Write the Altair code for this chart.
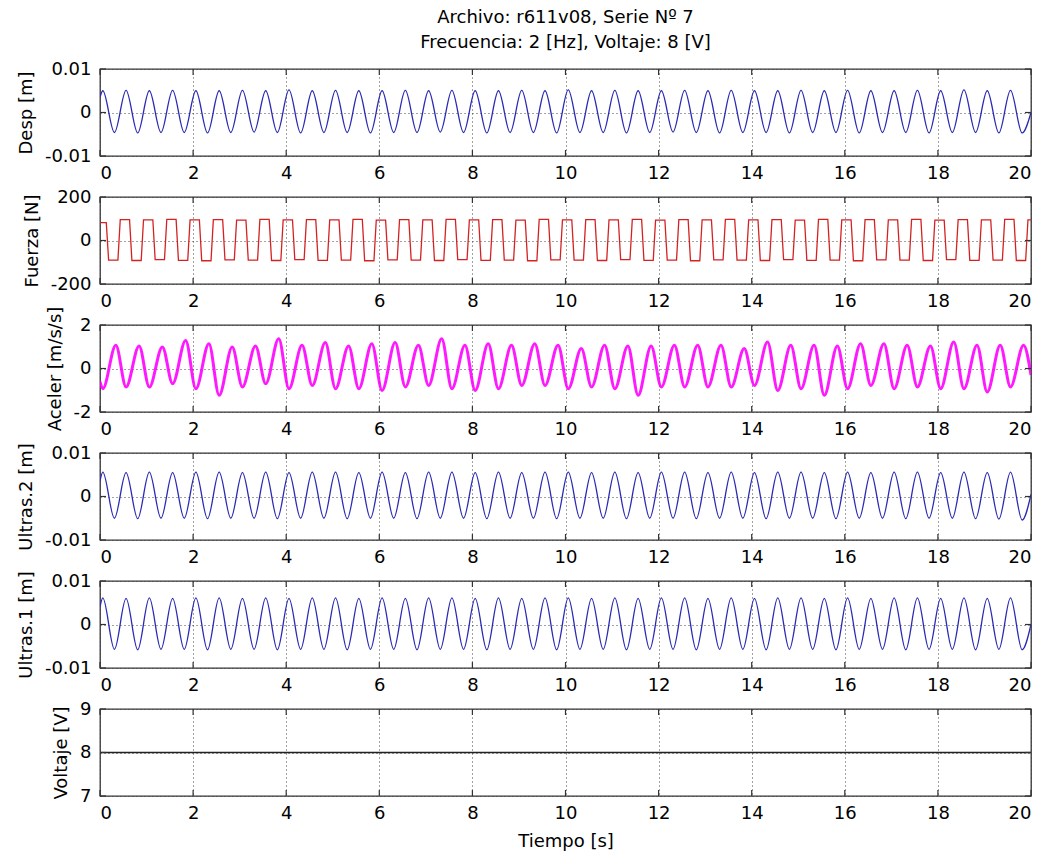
import altair as alt
import pandas as pd

FONT = "DejaVu Sans"

# ---------------- data ----------------
x_ticks = [0, 2, 4, 6, 8, 10, 12, 14, 16, 18, 20]
t_start, t_end = 0.0, 20.0

# crest / trough instants (2 Hz signal): first displacement crest, half period
disp_first_crest = 0.06
half_period = 0.25

# Desp [m]: crests and troughs of each of the 40 cycles
desp_start, desp_end = 0.0035, 0.0
desp_peaks = [0.0050, 0.0051, 0.0050, 0.0051, 0.0050, 0.0050, 0.0051, 0.0050, 0.0052, 0.0050,
              0.0051, 0.0050, 0.0050, 0.0051, 0.0050, 0.0051, 0.0050, 0.0050, 0.0051, 0.0050,
              0.0052, 0.0050, 0.0051, 0.0050, 0.0050, 0.0051, 0.0050, 0.0051, 0.0050, 0.0050,
              0.0051, 0.0050, 0.0051, 0.0050, 0.0050, 0.0051, 0.0050, 0.0052, 0.0050, 0.0051]
desp_troughs = [-0.0046, -0.0047, -0.0046, -0.0046, -0.0047, -0.0046, -0.0045, -0.0046, -0.0047, -0.0046,
                -0.0046, -0.0047, -0.0046, -0.0046, -0.0045, -0.0046, -0.0047, -0.0046, -0.0046, -0.0047,
                -0.0046, -0.0046, -0.0047, -0.0046, -0.0045, -0.0046, -0.0047, -0.0046, -0.0046, -0.0047,
                -0.0046, -0.0046, -0.0047, -0.0046, -0.0046, -0.0047, -0.0046, -0.0046, -0.0047, -0.0047]

# Fuerza [N]: square-like wave; falling edge / rising edge instants of first cycle
force_fall_first = 0.16
force_rise_first = 0.41
force_edge_half = 0.025
force_highs = [82, 96, 95, 97, 95, 96, 94, 97, 95, 96, 95, 97, 94, 96, 95, 97, 95, 96, 94, 97, 95,
               96, 95, 97, 94, 96, 95, 97, 95, 96, 94, 97, 95, 96, 95, 97, 94, 96, 95, 97, 95]
force_lows = [-90, -92, -88, -91, -93, -89, -90, -92, -88, -91, -90, -93, -89, -90, -92, -88, -91, -90, -93, -89,
              -90, -92, -88, -91, -90, -93, -89, -90, -92, -88, -91, -90, -93, -89, -90, -92, -88, -91, -90, -92]

# Aceler [m/s/s]: troughs (with displacement crests) and crests of each cycle
acc_peak_first = 0.34
acc_start, acc_end = -0.6, -0.3
acc_peaks = [1.07, 1.04, 0.99, 1.29, 1.14, 0.99, 1.04, 1.37, 1.07, 1.19, 1.04, 1.14, 1.19,
             1.07, 1.37, 1.07, 1.14, 1.07, 1.14, 1.07, 0.92, 1.07, 1.04, 1.04, 1.07, 1.07, 1.07,
             0.92, 1.22, 1.07, 1.07, 1.04, 1.14, 1.14, 1.07, 1.04, 1.22, 1.07, 1.07, 1.07]
acc_troughs = [-0.93, -0.85, -0.85, -0.70, -0.93, -1.23, -0.85, -0.70, -0.93, -0.78, -0.93, -0.93, -1.01, -0.85,
               -0.78, -0.93, -1.01, -0.93, -0.78, -0.78, -0.93, -0.85, -0.93, -1.23, -0.85, -0.85, -0.85,
               -0.85, -0.78, -1.01, -0.93, -1.23, -0.93, -0.78, -0.93, -0.85, -0.93, -0.93, -1.08, -0.85]

# Ultras.2 [m]
u2_start, u2_end = 0.0035, 0.0005
u2_peaks = [0.0056, 0.0055, 0.0056, 0.0055, 0.0056, 0.0056, 0.0055, 0.0056, 0.0055, 0.0056,
            0.0056, 0.0055, 0.0056, 0.0055, 0.0056, 0.0056, 0.0055, 0.0056, 0.0055, 0.0056,
            0.0056, 0.0055, 0.0056, 0.0055, 0.0056, 0.0056, 0.0055, 0.0056, 0.0055, 0.0056,
            0.0056, 0.0055, 0.0056, 0.0055, 0.0056, 0.0056, 0.0055, 0.0056, 0.0055, 0.0056]
u2_troughs = [-0.0050, -0.0051, -0.0050, -0.0050, -0.0051, -0.0050, -0.0050, -0.0051, -0.0050, -0.0050,
              -0.0051, -0.0050, -0.0050, -0.0051, -0.0050, -0.0050, -0.0051, -0.0050, -0.0050, -0.0051,
              -0.0050, -0.0050, -0.0051, -0.0050, -0.0050, -0.0051, -0.0050, -0.0050, -0.0051, -0.0050,
              -0.0050, -0.0051, -0.0050, -0.0050, -0.0051, -0.0050, -0.0050, -0.0051, -0.0052, -0.0054]

# Ultras.1 [m]
u1_start, u1_end = 0.0040, 0.0
u1_peaks = [0.0061, 0.0060, 0.0061, 0.0060, 0.0061, 0.0061, 0.0060, 0.0061, 0.0060, 0.0061,
            0.0061, 0.0060, 0.0061, 0.0060, 0.0061, 0.0061, 0.0060, 0.0061, 0.0060, 0.0061,
            0.0061, 0.0060, 0.0061, 0.0060, 0.0061, 0.0061, 0.0060, 0.0061, 0.0060, 0.0061,
            0.0061, 0.0060, 0.0061, 0.0060, 0.0061, 0.0061, 0.0060, 0.0061, 0.0060, 0.0061]
u1_troughs = [-0.0057, -0.0058, -0.0057, -0.0057, -0.0058, -0.0057, -0.0057, -0.0058, -0.0057, -0.0057,
              -0.0058, -0.0057, -0.0057, -0.0058, -0.0057, -0.0057, -0.0058, -0.0057, -0.0057, -0.0058,
              -0.0057, -0.0057, -0.0058, -0.0057, -0.0057, -0.0058, -0.0057, -0.0057, -0.0058, -0.0057,
              -0.0057, -0.0058, -0.0057, -0.0057, -0.0058, -0.0057, -0.0057, -0.0058, -0.0057, -0.0058]

# Voltaje [V]
volt_t = [0.0, 20.0]
volt_v = [8.0, 8.0]

titles = ["Archivo: r611v08, Serie Nº 7", "Frecuencia: 2 [Hz], Voltaje: 8 [V]"]


# ---------------- tables ----------------
def wave_table(first, a_list, b_list, start, end):
    ts, vs = [t_start], [start]
    for k in range(len(a_list)):
        ts.append(first + 2 * k * half_period)
        vs.append(a_list[k])
        ts.append(first + (2 * k + 1) * half_period)
        vs.append(b_list[k])
    pts = [(t, v) for t, v in zip(ts, vs) if t < t_end]
    pts.append((t_end, end))
    return pd.DataFrame(pts, columns=["t", "v"])


def acc_table():
    ts, vs = [t_start], [acc_start]
    for k in range(len(acc_troughs)):
        ts.append(disp_first_crest + 2 * k * half_period)
        vs.append(acc_troughs[k])
        ts.append(acc_peak_first + 2 * k * half_period)
        vs.append(acc_peaks[k])
    ts.append(t_end)
    vs.append(acc_end)
    return pd.DataFrame({"t": ts, "v": vs})


def force_table():
    ts, vs = [t_start], [force_highs[0]]
    for k in range(len(force_lows)):
        f = force_fall_first + 2 * k * half_period
        r = force_rise_first + 2 * k * half_period
        ts += [f - force_edge_half, f + force_edge_half, r - force_edge_half, r + force_edge_half]
        vs += [force_highs[k], force_lows[k], force_lows[k], force_highs[k + 1]]
    pts = [(t, v) for t, v in zip(ts, vs) if t <= t_end]
    pts.append((t_end, force_highs[-1]))
    return pd.DataFrame(pts, columns=["t", "v"])


W, H = 931, 87
LABEL_EXPR = "(datum.value < 0 ? '-' : '') + format(abs(datum.value), '')"


def panel(df, ydom, yvals, ytitle, color, sw=1.3, xtitle=None, interp="monotone", opacity=1.0):
    xax = alt.Axis(values=x_ticks, labelExpr=LABEL_EXPR, labelPadding=8,
                   title=xtitle, titlePadding=10)
    yax = alt.Axis(values=yvals, labelExpr=LABEL_EXPR, labelPadding=9,
                   title=ytitle, titlePadding=9)
    xs = alt.Scale(domain=[0, 20], nice=False, zero=False)
    ys = alt.Scale(domain=ydom, nice=False, zero=False)
    line = alt.Chart(df).mark_line(color=color, strokeWidth=sw, interpolate=interp,
                                   opacity=opacity, clip=True).encode(
        x=alt.X("t:Q", scale=xs, axis=xax),
        y=alt.Y("v:Q", scale=ys, axis=yax),
    )
    xt = pd.DataFrame({"t": x_ticks})
    yt = pd.DataFrame({"v": yvals})
    tick_style = dict(color="#333333", strokeWidth=1.2)
    xb = alt.Chart(xt).mark_rule(**tick_style).encode(
        x=alt.X("t:Q", scale=xs, axis=xax), y=alt.value(H), y2=alt.value(H - 6))
    xtp = alt.Chart(xt).mark_rule(**tick_style).encode(
        x=alt.X("t:Q", scale=xs, axis=xax), y=alt.value(0), y2=alt.value(6))
    yl = alt.Chart(yt).mark_rule(**tick_style).encode(
        y=alt.Y("v:Q", scale=ys, axis=yax), x=alt.value(0), x2=alt.value(6))
    yr = alt.Chart(yt).mark_rule(**tick_style).encode(
        y=alt.Y("v:Q", scale=ys, axis=yax), x=alt.value(W), x2=alt.value(W - 6))
    return alt.layer(line, xb, xtp, yl, yr).properties(width=W, height=H)


p1 = panel(wave_table(disp_first_crest, desp_peaks, desp_troughs, desp_start, desp_end),
           [-0.01, 0.01], [-0.01, 0, 0.01], "Desp [m]", "#2a2ab4")
p2 = panel(force_table(), [-200, 200], [-200, 0, 200], "Fuerza [N]", "#d42222", interp="linear")
p3 = panel(acc_table(), [-2, 2], [-2, 0, 2], "Aceler [m/s/s]", "#ff00ff", sw=3.0, opacity=0.9)
p4 = panel(wave_table(disp_first_crest, u2_peaks, u2_troughs, u2_start, u2_end),
           [-0.01, 0.01], [-0.01, 0, 0.01], "Ultras.2 [m]", "#2a2ab4")
p5 = panel(wave_table(disp_first_crest, u1_peaks, u1_troughs, u1_start, u1_end),
           [-0.01, 0.01], [-0.01, 0, 0.01], "Ultras.1 [m]", "#2a2ab4")
p6 = panel(pd.DataFrame({"t": volt_t, "v": volt_v}), [7, 9], [7, 8, 9], "Voltaje [V]", "#222222",
           xtitle="Tiempo [s]", interp="linear")

chart = alt.vconcat(p1, p2, p3, p4, p5, p6, spacing=41, bounds="flush").properties(
    title=alt.TitleParams(text=titles, frame="group", anchor="middle"),
    padding={"left": 16, "top": 9, "right": 5, "bottom": 5},
    background="white",
).configure_title(
    font=FONT, fontSize=18, fontWeight="normal", color="black", lineHeight=25, offset=7
).configure_axis(
    labelFont=FONT, labelFontSize=18, labelColor="black",
    titleFont=FONT, titleFontSize=18, titleFontWeight="normal", titleColor="black",
    grid=True, gridColor="#444444", gridDash=[1, 3], gridWidth=1, gridOpacity=1,
    domain=False, ticks=False,
).configure_view(stroke="#333333", strokeWidth=1.3)

chart.save("out.html", embed_options={"renderer": "svg", "actions": False})
